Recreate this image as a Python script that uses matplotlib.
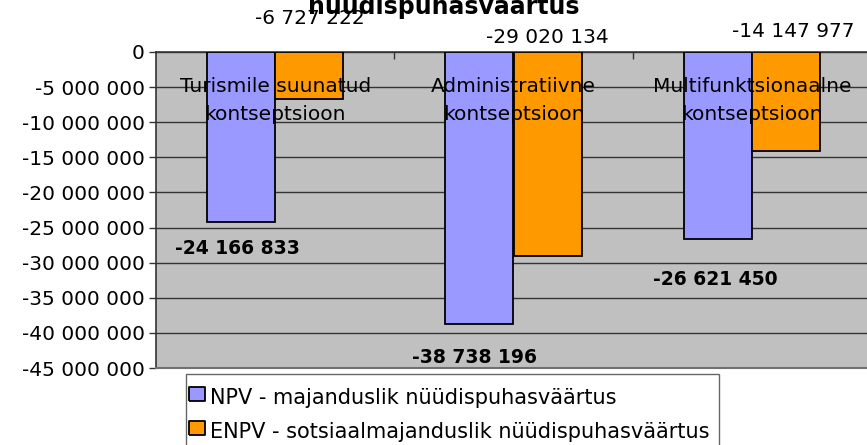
import numpy as np
import matplotlib
matplotlib.use("Agg")
import matplotlib.pyplot as plt
from matplotlib.lines import Line2D
from matplotlib.ticker import FuncFormatter, MultipleLocator

# -----------------------------------------------------------------------------
# Data
# -----------------------------------------------------------------------------
categories = ["Turismile suunatud\nkontseptsioon",
              "Administratiivne\nkontseptsioon",
              "Multifunktsionaalne\nkontseptsioon"]
npv_values = [-24166833, -38738196, -26621450]
enpv_values = [-6727222, -29020134, -14147977]
series_names = ["NPV - majanduslik nüüdispuhasväärtus",
                "ENPV - sotsiaalmajanduslik nüüdispuhasväärtus"]
title_text = "nüüdispuhasväärtus"

# label offsets in pixels (from the reference layout)
npv_label_offsets = [(-4, -27), (-5, -33), (-2, -41)]
enpv_label_offsets = [(1, 33), (0, 14), (7, 20)]

npv_color = "#9999FF"
enpv_color = "#FF9900"
fs = 14.5

def fmt(v, pos=None):
    return f"{v:,.0f}".replace(",", " ")

# -----------------------------------------------------------------------------
# Figure
# -----------------------------------------------------------------------------
W, H = 867, 445
fig = plt.figure(figsize=(W / 100, H / 100), dpi=100)
ax = fig.add_axes([156 / W, 1 - 368 / H, (871 - 156) / W, 316 / H])
ax.set_facecolor("#C0C0C0")

x = np.arange(len(categories))
bw = 0.286
b1 = ax.bar(x - bw / 2, npv_values, bw, color=npv_color,
            edgecolor="black", linewidth=1.3, zorder=3)
b2 = ax.bar(x + bw / 2, enpv_values, bw, color=enpv_color,
            edgecolor="black", linewidth=1.3, zorder=3)

ax.set_xlim(-0.5, 2.5)
ax.set_ylim(-45e6, 0)

ax.yaxis.set_major_locator(MultipleLocator(5e6))
ax.yaxis.set_major_formatter(FuncFormatter(fmt))
ax.grid(axis="y", color="#333333", linewidth=1, zorder=1)
ax.set_axisbelow(True)
ax.tick_params(axis="y", length=5, width=1, color="#333333",
               labelsize=fs, pad=3)

ax.xaxis.tick_top()
ax.set_xticks([0.5, 1.5])
ax.tick_params(axis="x", direction="in", length=5, width=1,
               color="#333333", labeltop=False, labelbottom=False)

for side in ["left", "top"]:
    ax.spines[side].set_color("#333333")
    ax.spines[side].set_linewidth(1.2)
ax.spines["bottom"].set_color("#707070")
ax.spines["bottom"].set_linewidth(1.5)
ax.spines["right"].set_visible(False)

# category names inside the plot
for i, name in enumerate(categories):
    ax.text(i, 0.847, name, transform=ax.get_xaxis_transform(),
            ha="center", va="center", fontsize=fs, linespacing=1.6,
            zorder=5)

# value labels
for rect, v, off in zip(b1, npv_values, npv_label_offsets):
    ax.annotate(fmt(v), (rect.get_x() + rect.get_width() / 2, v),
                xytext=off, textcoords="offset pixels",
                ha="center", va="center", fontsize=13.5,
                fontweight="bold", zorder=5, annotation_clip=False)
for rect, v, off in zip(b2, enpv_values, enpv_label_offsets):
    ax.annotate(fmt(v), (rect.get_x() + rect.get_width() / 2, 0),
                xytext=off, textcoords="offset pixels",
                ha="center", va="center", fontsize=fs,
                zorder=5, annotation_clip=False)

# title, first line is off the canvas in the reference
fig.text(444 / W, 1 - 14 / H, title_text, ha="center", va="baseline",
         fontsize=17, fontweight="bold")

# legend
rect_marker = [(-1.3, -1), (1.3, -1), (1.3, 1), (-1.3, 1), (-1.3, -1)]
handles = [Line2D([], [], linestyle="none", marker=rect_marker,
                  markersize=12.2, markerfacecolor=c,
                  markeredgecolor="black", markeredgewidth=1.3)
           for c in (npv_color, enpv_color)]
fig.legend(handles, series_names, loc="upper left",
           bbox_to_anchor=(185.5 / W, 1 - 374 / H), borderaxespad=0,
           fontsize=15, frameon=True, fancybox=False, edgecolor="#404040",
           borderpad=0.46, handlelength=0.2, handleheight=1.6,
           handletextpad=0.52, labelspacing=0.34)

fig.savefig("out.png", dpi=100)
